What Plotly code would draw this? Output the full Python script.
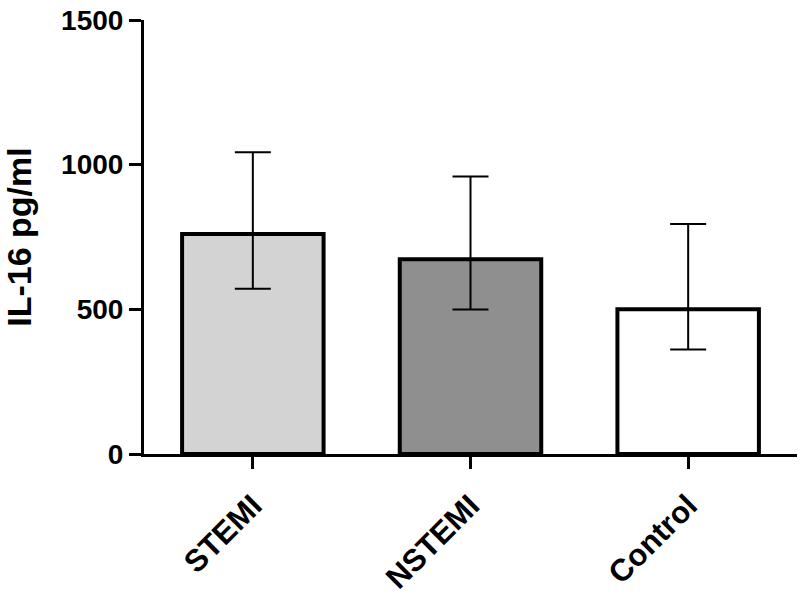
import plotly.graph_objects as go

categories = ["STEMI", "NSTEMI", "Control"]
means = [760, 673, 500]
upper = [1043, 959, 795]
lower = [571, 499, 361]
fills = ["#d3d3d3", "#8f8f8f", "#ffffff"]
y_ticks = [0, 500, 1000, 1500]

err_plus = [u - m for u, m in zip(upper, means)]
err_minus = [m - l for m, l in zip(means, lower)]

FONT = "Liberation Sans, Arial, sans-serif"

fig = go.Figure(
    go.Bar(
        x=categories,
        y=means,
        width=0.65,
        marker=dict(color=fills, line=dict(color="black", width=4)),
        error_y=dict(
            type="data",
            symmetric=False,
            array=err_plus,
            arrayminus=err_minus,
            thickness=2,
            width=18,
            color="black",
        ),
    )
)

fig.update_layout(
    width=800,
    height=595,
    margin=dict(l=144, r=3, t=20, b=141),
    plot_bgcolor="white",
    paper_bgcolor="white",
    showlegend=False,
    font=dict(family=FONT, color="black"),
)

fig.update_xaxes(
    range=[-0.5, 2.5],
    automargin=False,
    showline=True,
    linecolor="black",
    linewidth=3,
    ticks="outside",
    ticklen=12,
    tickwidth=3,
    tickcolor="black",
    tickangle=-45,
    ticklabelstandoff=6,
    ticklabeloverflow="allow",
    tickfont=dict(family=FONT, size=31, color="black", weight="bold"),
    showgrid=False,
    zeroline=False,
)

fig.update_yaxes(
    range=[0, 1500],
    tickvals=y_ticks,
    automargin=False,
    showline=True,
    linecolor="black",
    linewidth=3,
    ticks="outside",
    ticklen=12,
    tickwidth=3,
    tickcolor="black",
    ticklabeloverflow="allow",
    tickfont=dict(family=FONT, size=28, color="black", weight="bold"),
    title=dict(text="IL-16 pg/ml", font=dict(family=FONT, size=34, color="black", weight="bold"), standoff=30),
    showgrid=False,
    zeroline=False,
)

fig.write_html(
    "out.html",
    config={"displayModeBar": False},
    post_script="document.body.style.margin='0';",
)
